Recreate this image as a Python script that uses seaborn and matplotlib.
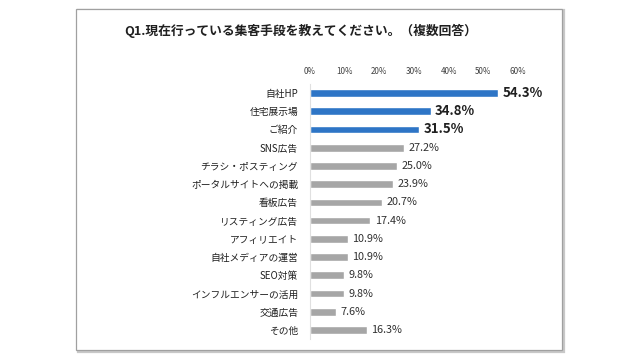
import matplotlib
matplotlib.use("Agg")
import matplotlib.pyplot as plt
import seaborn as sns
import pandas as pd
from matplotlib.patches import Rectangle

categories = ["自社HP", "住宅展示場", "ご紹介", "SNS広告", "チラシ・ポスティング",
              "ポータルサイトへの掲載", "看板広告", "リスティング広告", "アフィリエイト",
              "自社メディアの運営", "SEO対策", "インフルエンサーの活用", "交通広告", "その他"]
values = [54.3, 34.8, 31.5, 27.2, 25.0, 23.9, 20.7, 17.4, 10.9, 10.9, 9.8, 9.8, 7.6, 16.3]
highlight = [True, True, True] + [False] * 11
tick_labels = ["0%", "10%", "20%", "30%", "40%", "50%", "60%"]

BLUE = "#2E75C6"
GRAY = "#A6A6A6"

sns.set_style("white")
plt.rcParams['font.family'] = ['Noto Sans CJK JP', 'DejaVu Sans']

df = pd.DataFrame({"cat": categories, "val": values})
colors = [BLUE if h else GRAY for h in highlight]

fig = plt.figure(figsize=(6.4, 3.6), dpi=100)
fig.patches.append(Rectangle((78 / 640, 1 - 352 / 360), 486 / 640, 342 / 360,
                             transform=fig.transFigure, facecolor="none",
                             edgecolor="#C8C8C8", linewidth=1.6, zorder=-2))
fig.patches.append(Rectangle((76 / 640, 1 - 350 / 360), 486 / 640, 341 / 360,
                             transform=fig.transFigure, facecolor="white",
                             edgecolor="#A0A0A0", linewidth=0.9, zorder=-1))

ax = fig.add_axes([310 / 640, 1 - 339.1 / 360, 208 / 640, 255.2 / 360])
ax.patch.set_alpha(0)
sns.barplot(data=df, x="val", y="cat", hue="cat", palette=colors, legend=False,
            width=0.42, ax=ax, saturation=1)

ax.set_xlim(0, 60)
ax.set_ylim(len(categories) - 0.5, -0.5)
ax.set_xticks(range(0, 61, 10))
ax.set_xticklabels(tick_labels, fontsize=5.8, color="#404040")
ax.xaxis.tick_top()
ax.tick_params(axis="x", length=0, pad=6)
ax.tick_params(axis="y", length=0, pad=8.5, labelsize=7, labelcolor="#202020")
ax.set_xlabel("")
ax.set_ylabel("")
for s in ["top", "right", "bottom"]:
    ax.spines[s].set_visible(False)
ax.spines["left"].set_color("#E0E0E0")
ax.spines["left"].set_linewidth(0.8)

for i, (v, h) in enumerate(zip(values, highlight)):
    if h:
        ax.text(v + 1.3, i, f"{v:.1f}%", va="center", ha="left", fontsize=9.5,
                fontweight="bold", color="#202020")
    else:
        ax.text(v + 1.3, i, f"{v:.1f}%", va="center", ha="left", fontsize=7.8,
                color="#303030")

fig.text(301 / 640, 1 - 31 / 360, "Q1.現在行っている集客手段を教えてください。（複数回答）",
         ha="center", va="center", fontsize=9.2, fontweight="bold", color="#202020")

fig.savefig("out.png", dpi=100)
